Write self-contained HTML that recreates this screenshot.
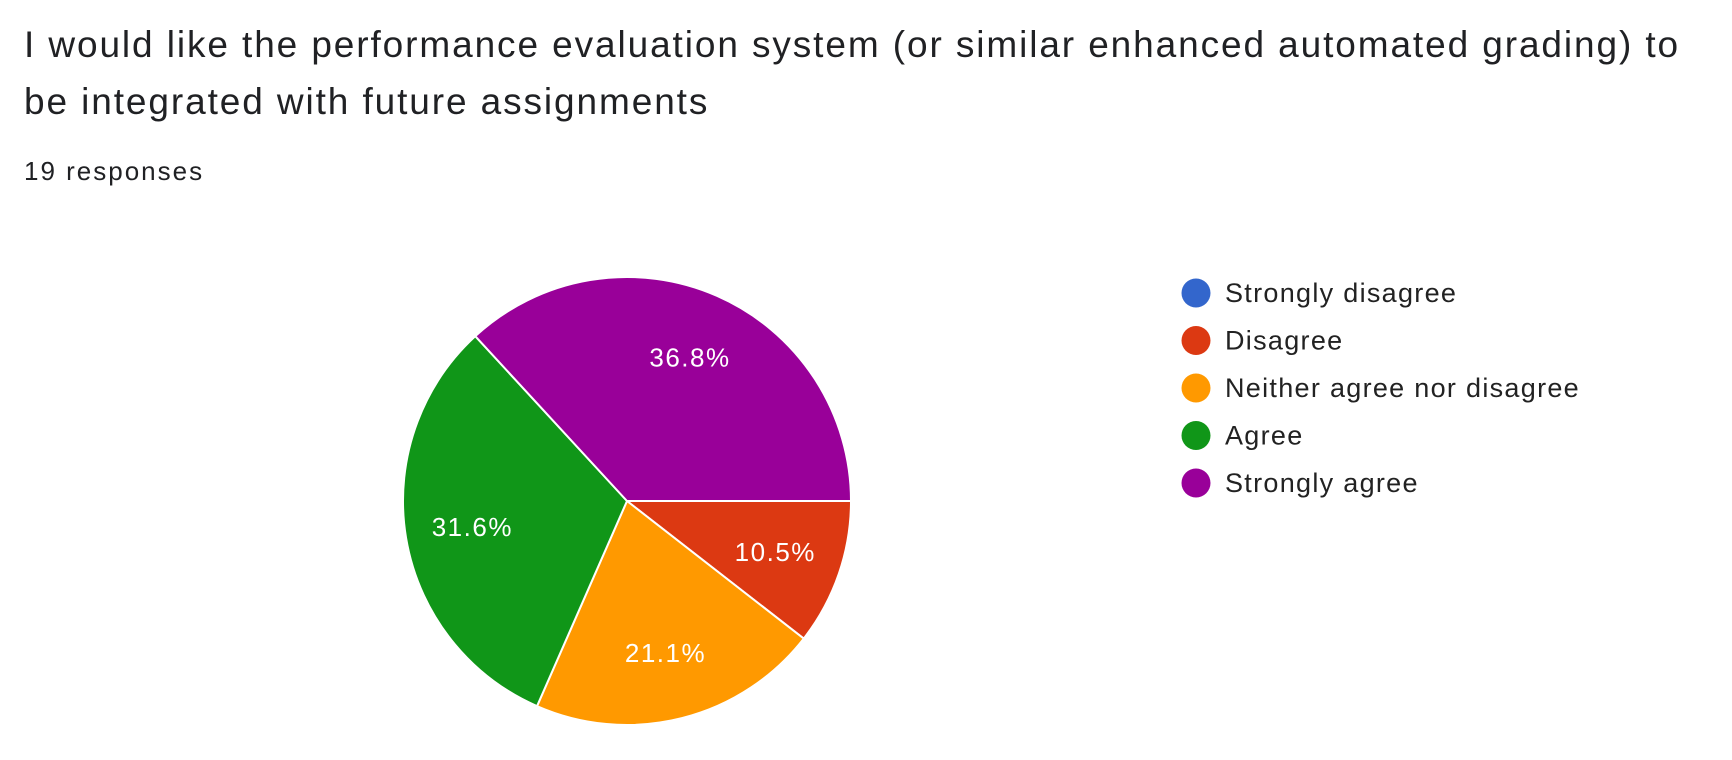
<!DOCTYPE html>
<html><head><meta charset="utf-8"><style>
body{margin:0;background:#fff;width:1732px;height:760px;overflow:hidden;font-family:"Liberation Sans",sans-serif}
#title{position:absolute;left:24px;top:16px;font-size:37px;letter-spacing:1.9px;line-height:57px;color:#202124;width:1720px;white-space:nowrap}
#resp{position:absolute;left:24px;top:156px;font-size:26px;color:#202124;letter-spacing:2px}
</style></head><body>
<div id="title">I would like the performance evaluation system (or similar enhanced automated grading) to<br>be integrated with future assignments</div>
<div id="resp">19 responses</div>
<svg id="chart" width="1732" height="760" style="position:absolute;left:0;top:0"></svg>
<script>
const categories=["Strongly disagree","Disagree","Neither agree nor disagree","Agree","Strongly agree"];
const counts=[0,2,4,6,7];
const colors=["#3366cc","#dc3912","#ff9900","#109618","#990099"];
const svg=document.getElementById('chart');
const NS="http://www.w3.org/2000/svg";
const cx=627,cy=501,R=224;
const total=counts.reduce((a,b)=>a+b,0);
let a=0;
counts.forEach((c,i)=>{
  if(!c)return;
  const sweep=c/total*2*Math.PI, a2=a+sweep;
  const p=document.createElementNS(NS,'path');
  const x1=cx+R*Math.cos(a),y1=cy+R*Math.sin(a),x2=cx+R*Math.cos(a2),y2=cy+R*Math.sin(a2);
  p.setAttribute('d',`M${cx},${cy}L${x1},${y1}A${R},${R} 0 ${sweep>Math.PI?1:0} 1 ${x2},${y2}Z`);
  p.setAttribute('fill',colors[i]);p.setAttribute('stroke','#fff');p.setAttribute('stroke-width','2');
  
  
  svg.appendChild(p);
  const m=(a+a2)/2;
  const t=document.createElementNS(NS,'text');
  t.setAttribute('x',cx+0.7*R*Math.cos(m));t.setAttribute('y',cy+0.7*R*Math.sin(m)+9);
  t.setAttribute('text-anchor','middle');t.setAttribute('fill','#fff');t.setAttribute('font-size','26');
  t.setAttribute('letter-spacing','1.5');
  t.setAttribute('font-family','Liberation Sans, sans-serif');
  t.textContent=(c/total*100).toFixed(1)+'%';
  
  
  svg.appendChild(t);
  a=a2;
});
categories.forEach((n,i)=>{
  const y=293+i*47.5;
  const g=document.createElementNS(NS,'g');
  
  
  const ci=document.createElementNS(NS,'circle');
  ci.setAttribute('cx',1196);ci.setAttribute('cy',y);ci.setAttribute('r',14.5);ci.setAttribute('fill',colors[i]);
  g.appendChild(ci);
  const t=document.createElementNS(NS,'text');
  t.setAttribute('x',1225);t.setAttribute('y',y+9);t.setAttribute('font-size','27');t.setAttribute('fill','#222');
  t.setAttribute('letter-spacing','1.3');
  t.setAttribute('font-family','Liberation Sans, sans-serif');t.textContent=n;
  g.appendChild(t);svg.appendChild(g);
});
</script>
</body></html>
